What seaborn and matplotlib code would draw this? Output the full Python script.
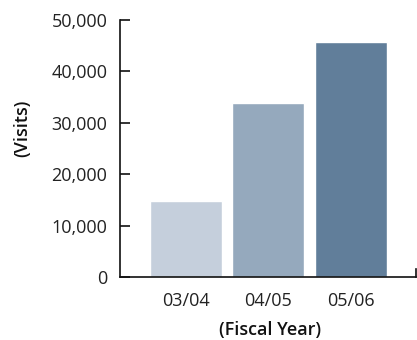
import matplotlib
matplotlib.use("Agg")
import matplotlib.pyplot as plt
import seaborn as sns
import pandas as pd

# Data
years = ["03/04", "04/05", "05/06"]
visits = [14800, 33800, 45700]
bar_colors = ["#c5cfdc", "#95a9bd", "#617e9a"]
y_ticks = [0, 10000, 20000, 30000, 40000, 50000]

sns.set_theme(style="white")
plt.rcParams["font.family"] = ["Open Sans", "DejaVu Sans"]
plt.rcParams["ytick.direction"] = "in"

df = pd.DataFrame({"year": years, "visits": visits})

fig = plt.figure(figsize=(4.17, 3.40), dpi=100)
ax = fig.add_axes([120 / 417, 63 / 340, 296 / 417, 257 / 340])

sns.barplot(data=df, x="year", y="visits", hue="year", palette=bar_colors,
            width=0.873, legend=False, saturation=1, ax=ax)

ax.set_xlim(-0.8, 2.79)
ax.set_ylim(0, 50000)
ax.set_yticks(y_ticks)
ax.set_yticklabels([f"{v:,}" for v in y_ticks])

ax.spines["top"].set_visible(False)
ax.spines["right"].set_bounds(0, 1500)
for s in ("left", "bottom", "right"):
    ax.spines[s].set_color("#111111")
    ax.spines[s].set_linewidth(1.2)

ax.tick_params(axis="y", which="major", direction="in", length=7, width=1.2,
               color="#111111", labelsize=13, labelcolor="#222222", pad=9,
               left=True, right=False)
ax.tick_params(axis="x", length=0, labelsize=13, labelcolor="#222222", pad=11)

ax.set_xlabel("(Fiscal Year)", fontsize=13, fontweight="semibold", color="#111111")
ax.set_ylabel("(Visits)", fontsize=13, fontweight="semibold", color="#111111")
ax.xaxis.set_label_coords(0.507, -0.17)
ax.yaxis.set_label_coords(-0.30, 0.58)

fig.savefig("out.png", dpi=100)
